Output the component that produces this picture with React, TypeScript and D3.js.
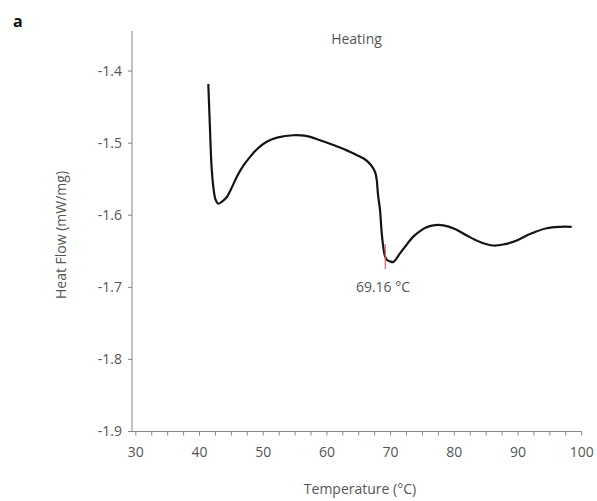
import React, { useEffect } from "react";
import * as d3 from "d3";

const temperature = [
  41.38, 41.65, 41.88, 42.17, 42.51, 42.95, 43.53, 44.27, 44.94, 45.84, 46.83, 47.93,
  49.18, 50.55, 52.32, 54.73, 56.72, 58.92, 61.12, 63.11, 64.57, 65.71, 66.45, 67.28,
  67.63, 67.82, 68.03, 68.34, 68.57, 68.85, 69.12, 69.43, 69.9, 70.42, 70.85, 71.47,
  72.42, 73.52, 74.62, 75.56, 76.7, 78.27, 80.11, 81.95, 84.03, 86.12, 87.96, 89.8,
  91.88, 94.5, 96.59, 98.43,
];
const heatFlow = [
  -1.418, -1.482, -1.531, -1.561, -1.578, -1.584, -1.581, -1.575, -1.564, -1.547, -1.532, -1.519,
  -1.507, -1.498, -1.492, -1.489, -1.49, -1.496, -1.503, -1.51, -1.516, -1.521, -1.526, -1.535,
  -1.542, -1.551, -1.572, -1.593, -1.621, -1.644, -1.657, -1.662, -1.664, -1.665, -1.661, -1.653,
  -1.642, -1.63, -1.622, -1.617, -1.614, -1.614, -1.619, -1.628, -1.637, -1.642, -1.64, -1.635,
  -1.626, -1.618, -1.616, -1.616,
];
const xTicks = [30, 40, 50, 60, 70, 80, 90, 100];
const xMinorTicks = d3.range(30, 100.01, 2.5);
const yTicks = [-1.9, -1.8, -1.7, -1.6, -1.5, -1.4];
const onsetTemp = 69.16;
const onsetRange = [-1.64, -1.675];
const onsetLabel = "69.16 °C";
const title = "Heating";
const panelLabel = "a";
const xLabel = "Temperature (°C)";
const yLabel = "Heat Flow (mW/mg)";

const W = 597;
const H = 501;
const left = 132;
const right = 581.7;
const top = 31;
const bottom = 431.5;
const FONT = "'Open Sans', 'Noto Sans', sans-serif";
const TXT = "#555555";
const AX = "#868686";
const FS = 14;

export default function App() {
  useEffect(() => {
    document.body.style.margin = "0";
  }, []);

  const x = d3.scaleLinear().domain([29.4, 100]).range([left, right]);
  const y = d3.scaleLinear().domain([-1.9, -1.3444]).range([bottom, top]);

  const data = temperature.map((t, i) => [t, heatFlow[i]] as [number, number]);
  const line = d3
    .line<[number, number]>()
    .x((d) => x(d[0]))
    .y((d) => y(d[1]))
    .curve(d3.curveCatmullRom.alpha(0.5));
  const path = line(data) || "";

  return (
    <svg width={W} height={H} style={{ display: "block" }} fontFamily={FONT}>
      <rect width={W} height={H} fill="#fff" />
      <text x={13} y={26.5} fontSize={16} fontWeight="bold" fill="#111">
        {panelLabel}
      </text>
      <text x={356.5} y={44} fontSize={FS} textAnchor="middle" fill={TXT}>
        {title}
      </text>
      {/* y axis */}
      <line x1={left} x2={left} y1={top} y2={bottom} stroke={AX} strokeWidth={1} />
      {yTicks.map((t) => (
        <g key={t}>
          <line x1={left - 4} x2={left} y1={y(t)} y2={y(t)} stroke={AX} />
          <text
            x={left - 10}
            y={y(t)}
            dy="0.35em"
            fontSize={FS}
            textAnchor="end"
            fill={TXT}
          >
            {t.toFixed(1)}
          </text>
        </g>
      ))}
      {/* x axis */}
      <line x1={left} x2={right} y1={bottom} y2={bottom} stroke={AX} strokeWidth={1} />
      {xMinorTicks.map((t) => (
        <line key={"m" + t} x1={x(t)} x2={x(t)} y1={bottom} y2={bottom + 4} stroke={AX} />
      ))}
      {xTicks.map((t) => (
        <text key={t} x={x(t)} y={456.5} fontSize={FS} textAnchor="middle" fill={TXT}>
          {t}
        </text>
      ))}
      <text x={360} y={494} fontSize={FS} textAnchor="middle" fill={TXT}>
        {xLabel}
      </text>
      <text
        transform={`translate(66,235) rotate(-90)`}
        fontSize={FS}
        textAnchor="middle"
        fill={TXT}
      >
        {yLabel}
      </text>
      {/* curve */}
      <path d={path} fill="none" stroke="#141414" strokeWidth={2.2} strokeLinejoin="round" />
      {/* onset marker */}
      <line
        x1={x(onsetTemp)}
        x2={x(onsetTemp)}
        y1={y(onsetRange[0])}
        y2={y(onsetRange[1])}
        stroke="#e8606a"
        strokeWidth={1.2}
      />
      <text x={383} y={291.5} fontSize={FS} textAnchor="middle" fill={TXT}>
        {onsetLabel}
      </text>
    </svg>
  );
}
